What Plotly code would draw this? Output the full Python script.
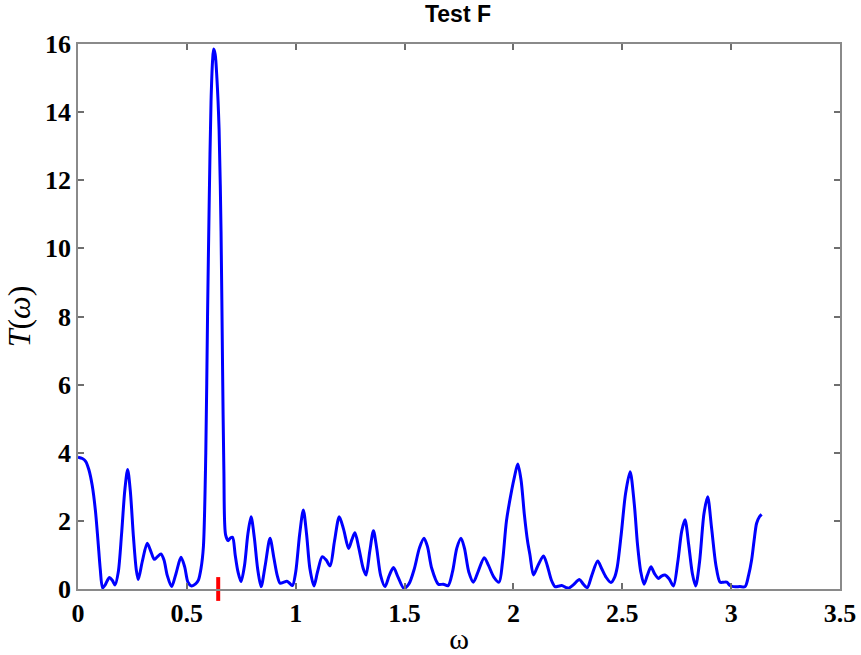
import plotly.graph_objects as go

# Data
omega = [
    0.000, 0.020, 0.035, 0.050, 0.065, 0.080, 0.092, 0.102, 0.113, 0.125,
    0.144, 0.158, 0.170, 0.185, 0.200, 0.215, 0.228, 0.240, 0.255, 0.268,
    0.277, 0.295, 0.318, 0.335, 0.350, 0.365, 0.381, 0.395, 0.410, 0.430,
    0.450, 0.473, 0.490, 0.505, 0.522, 0.540, 0.553, 0.565, 0.576, 0.587,
    0.595, 0.603, 0.611, 0.618, 0.623, 0.630, 0.638, 0.648, 0.657, 0.664,
    0.670, 0.678, 0.690, 0.700, 0.710, 0.722, 0.735, 0.749, 0.765, 0.780,
    0.795, 0.810, 0.825, 0.841, 0.860, 0.882, 0.900, 0.915, 0.928, 0.945,
    0.959, 0.972, 0.985, 1.000, 1.018, 1.035, 1.050, 1.065, 1.084, 1.100,
    1.122, 1.140, 1.158, 1.178, 1.200, 1.220, 1.243, 1.258, 1.272, 1.290,
    1.310, 1.323, 1.340, 1.357, 1.372, 1.390, 1.410, 1.430, 1.449, 1.470,
    1.497, 1.520, 1.545, 1.568, 1.589, 1.605, 1.625, 1.655, 1.678, 1.700,
    1.720, 1.740, 1.759, 1.775, 1.795, 1.816, 1.840, 1.866, 1.885, 1.910,
    1.934, 1.950, 1.968, 1.992, 2.005, 2.020, 2.035, 2.050, 2.065, 2.076,
    2.092, 2.110, 2.138, 2.155, 2.175, 2.191, 2.205, 2.222, 2.240, 2.252,
    2.275, 2.303, 2.320, 2.339, 2.360, 2.387, 2.405, 2.425, 2.448, 2.465,
    2.477, 2.495, 2.515, 2.536, 2.555, 2.570, 2.585, 2.600, 2.615, 2.632,
    2.648, 2.666, 2.680, 2.696, 2.715, 2.735, 2.755, 2.773, 2.788, 2.805,
    2.822, 2.837, 2.855, 2.875, 2.892, 2.910, 2.930, 2.949, 2.965, 2.980,
    2.995, 3.010, 3.040, 3.064, 3.080, 3.094, 3.105, 3.117, 3.130, 3.140,
]
T_values = [
    3.87, 3.83, 3.75, 3.50, 3.05, 2.30, 1.40, 0.60, 0.03, 0.12,
    0.34, 0.25, 0.12, 0.50, 1.60, 2.90, 3.51, 2.90, 1.50, 0.55,
    0.28, 0.80, 1.34, 1.10, 0.87, 0.95, 1.03, 0.85, 0.40, 0.07,
    0.45, 0.93, 0.65, 0.20, 0.09, 0.15, 0.26, 0.60, 1.24, 4.00,
    8.00, 11.5, 14.3, 15.5, 15.85, 15.7, 15.0, 13.5, 10.5, 6.50,
    3.50, 1.59, 1.42, 1.50, 1.52, 1.00, 0.50, 0.22, 0.70, 1.60,
    2.12, 1.50, 0.60, 0.07, 0.70, 1.49, 0.90, 0.40, 0.17, 0.20,
    0.23, 0.17, 0.10, 0.50, 1.60, 2.32, 1.60, 0.60, 0.09, 0.50,
    0.95, 0.85, 0.68, 1.40, 2.12, 1.75, 1.19, 1.45, 1.65, 1.20,
    0.60, 0.41, 1.10, 1.71, 1.20, 0.40, 0.07, 0.40, 0.63, 0.35,
    0.02, 0.15, 0.60, 1.20, 1.49, 1.25, 0.60, 0.14, 0.14, 0.10,
    0.50, 1.20, 1.49, 1.20, 0.50, 0.20, 0.55, 0.92, 0.70, 0.35,
    0.20, 0.80, 2.00, 2.90, 3.30, 3.67, 3.20, 2.20, 1.40, 1.00,
    0.41, 0.65, 0.97, 0.70, 0.25, 0.07, 0.08, 0.10, 0.05, 0.02,
    0.12, 0.28, 0.15, 0.04, 0.40, 0.82, 0.60, 0.35, 0.19, 0.35,
    0.65, 1.60, 2.80, 3.44, 2.50, 1.30, 0.50, 0.14, 0.40, 0.65,
    0.45, 0.31, 0.38, 0.41, 0.30, 0.09, 0.80, 1.70, 2.03, 1.30,
    0.45, 0.09, 0.80, 2.20, 2.71, 1.80, 0.70, 0.20, 0.20, 0.20,
    0.10, 0.07, 0.07, 0.07, 0.40, 0.85, 1.40, 1.93, 2.12, 2.19,
]
marker_omega = [0.644]
marker_T = [0.0]

x_ticks = [0, 0.5, 1, 1.5, 2, 2.5, 3, 3.5]
x_ticklabels = ["0", "0.5", "1", "1.5", "2", "2.5", "3", "3.5"]
y_ticks = [0, 2, 4, 6, 8, 10, 12, 14, 16]
y_ticklabels = ["0", "2", "4", "6", "8", "10", "12", "14", "16"]

fig = go.Figure()
fig.add_trace(go.Scatter(
    x=omega, y=T_values, mode="lines",
    line=dict(color="#0000ff", width=3, shape="spline", smoothing=0.8),
    showlegend=False,
))
fig.add_trace(go.Scatter(
    x=marker_omega, y=marker_T, mode="markers", cliponaxis=False,
    marker=dict(symbol="line-ns", size=17, color="#ff0000",
                line=dict(color="#ff0000", width=4)),
    showlegend=False,
))

axis_common = dict(
    showgrid=False, zeroline=False, showline=True, linecolor="#8a8a8a",
    linewidth=1.5, mirror="ticks", ticks="inside", ticklen=6,
    tickcolor="#6e6e6e", tickwidth=1.5, automargin=False,
    tickfont=dict(family="Liberation Serif", size=26, color="black", weight="bold"),
)

fig.update_layout(
    width=861, height=655,
    margin=dict(l=78, r=21, t=44, b=66, autoexpand=False),
    paper_bgcolor="white", plot_bgcolor="white",
    title=dict(text="<b>Test F</b>", x=458 / 861, xref="container", xanchor="center",
               y=1 - 14 / 655, yref="container", yanchor="middle",
               font=dict(family="Liberation Sans", size=23, color="black")),
    xaxis=dict(range=[0, 3.5], tickvals=x_ticks, ticktext=x_ticklabels,
               title=dict(text="ω", standoff=2,
                          font=dict(family="Liberation Serif", size=30, color="black")),
               **axis_common),
    yaxis=dict(range=[0, 16], tickvals=y_ticks, ticktext=y_ticklabels,
               title=dict(text="<i>T</i>(<i>ω</i>)", standoff=5,
                          font=dict(family="Liberation Serif", size=32, color="black")),
               **axis_common),
)

fig.write_html("out.html")
